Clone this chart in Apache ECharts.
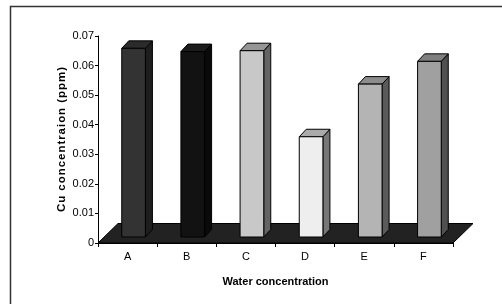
<!DOCTYPE html>
<html lang="en">
<head>
    <meta charset="UTF-8">
    <title>Cu concentration</title>
    <script src="https://cdn.jsdelivr.net/npm/echarts@6/dist/echarts.min.js"></script>
    <style>
        html, body { margin: 0; padding: 0; background: #fff; }
    </style>
</head>
<body>
    <div id="myChart" style="width: 502px;height:304px;"></div>

    <script>
        // data
        var categories = ['A', 'B', 'C', 'D', 'E', 'F'];
        var cuValues = [0.0638, 0.0627, 0.0630, 0.0339, 0.0517, 0.0594];

        // front, side, top shades for each bar
        var barColors = [
            ['#333333', '#1e1e1e', '#2b2b2b'],
            ['#121212', '#0a0a0a', '#1c1c1c'],
            ['#c8c8c8', '#646464', '#969696'],
            ['#eeeeee', '#777777', '#aaaaaa'],
            ['#b4b4b4', '#5a5a5a', '#8c8c8c'],
            ['#a0a0a0', '#505050', '#7f7f7f']
        ];

        // letter-spaced like the original
        var yName = 'Cu concentraion (ppm)'.split('').join('\u200A');

        function renderFloor(params, api) {
            var cs = params.coordSys;
            var yb = cs.y + cs.height;
            var d = 20, h = 19.5;
            return {
                type: 'polygon',
                shape: { points: [[cs.x, yb], [cs.x + cs.width, yb], [cs.x + cs.width + d, yb - h], [cs.x + d, yb - h]] },
                style: { fill: '#222222', stroke: '#000', lineWidth: 1 }
            };
        }

        function renderBar(params, api) {
            var i = api.value(0);
            var base = api.coord([i, 0]);
            var top = api.coord([i, api.value(1)]);
            var band = api.size([1, 0])[0];
            var w = band * 0.4;
            var ox = 6, oy = 6, dx = 7, dy = 7.5;
            var x0 = base[0] - w / 2 + ox, x1 = x0 + w;
            var yb = base[1] - oy, yt = top[1] - oy;
            var c = barColors[i];
            return {
                type: 'group',
                children: [
                    { type: 'polygon', shape: { points: [[x1, yb], [x1 + dx, yb - dy], [x1 + dx, yt - dy], [x1, yt]] },
                      style: { fill: c[1], stroke: '#000', lineWidth: 1 } },
                    { type: 'polygon', shape: { points: [[x0, yt], [x1, yt], [x1 + dx, yt - dy], [x0 + dx, yt - dy]] },
                      style: { fill: c[2], stroke: '#000', lineWidth: 1 } },
                    { type: 'rect', shape: { x: x0, y: yt, width: w, height: yb - yt },
                      style: { fill: c[0], stroke: '#000', lineWidth: 1 } }
                ]
            };
        }

        var myChart = echarts.init(document.getElementById('myChart'));
        var option = {
            animation: false,
            backgroundColor: '#fff',
            textStyle: { fontFamily: 'Liberation Sans, Arial, sans-serif' },
            graphic: [{
                type: 'rect',
                shape: { x: 10.5, y: 6.5, width: 520, height: 320 },
                style: { fill: 'none', stroke: '#333', lineWidth: 1.5 },
                silent: true
            }],
            grid: { left: 98, right: 49, top: 36, bottom: 61 },
            xAxis: {
                type: 'category',
                data: categories,
                name: 'Water concentration',
                nameLocation: 'middle',
                nameGap: 33,
                nameTextStyle: { fontSize: 11, fontWeight: 'bold', color: '#000' },
                axisLine: { lineStyle: { color: '#000', width: 1 } },
                axisTick: { show: true, length: 4, alignWithLabel: false, lineStyle: { color: '#000' } },
                axisLabel: { fontSize: 11, color: '#000', margin: 8 },
                splitLine: { show: false }
            },
            yAxis: {
                type: 'value',
                min: 0,
                max: 0.07,
                interval: 0.01,
                name: yName,
                nameLocation: 'middle',
                nameGap: 30,
                nameMoveOverlap: false,
                nameTextStyle: { fontSize: 11.5, fontWeight: 'bold', color: '#000' },
                axisLine: { show: true, lineStyle: { color: '#000', width: 1 } },
                axisTick: { show: true, length: 3, lineStyle: { color: '#000' } },
                axisLabel: { fontSize: 11, color: '#000', margin: 4 },
                splitLine: { show: false }
            },
            series: [
                {
                    type: 'custom',
                    renderItem: renderFloor,
                    data: [[0, 0]],
                    encode: { x: 0, y: 1 },
                    silent: true
                },
                {
                    type: 'custom',
                    renderItem: renderBar,
                    data: categories.map(function (c, i) { return [i, cuValues[i]]; }),
                    encode: { x: 0, y: 1 }
                }
            ]
        };
        myChart.setOption(option);
    </script>
</body>
</html>
